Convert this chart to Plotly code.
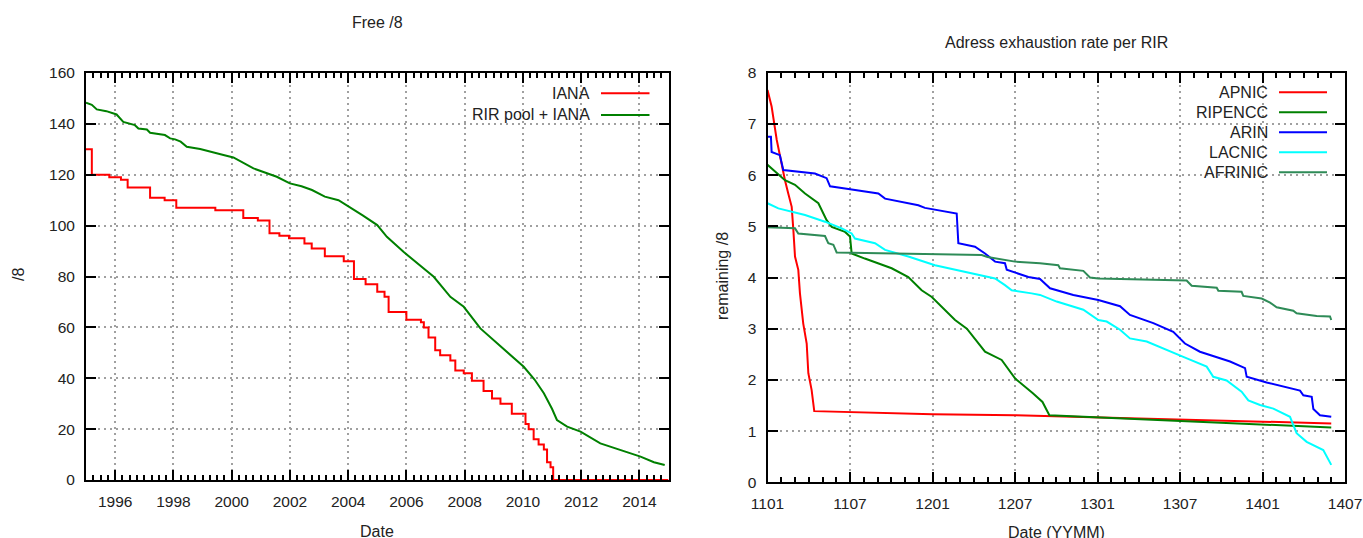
import plotly.graph_objects as go

# ---------------- Left chart data: Free /8 ----------------
iana_year = [1995.0, 1995.2, 1995.8, 1996.2, 1996.43, 1997.2, 1997.7, 1998.1, 1999.44, 2000.4,
             2000.9, 2001.3, 2001.64, 2001.97, 2002.5, 2002.75, 2003.2, 2003.85, 2004.2, 2004.6,
             2005.0, 2005.25, 2005.39, 2006.0, 2006.5, 2006.6, 2006.76, 2006.99, 2007.16, 2007.51,
             2007.68, 2007.97, 2008.25, 2008.65, 2008.94, 2009.23, 2009.62, 2010.09, 2010.2,
             2010.37, 2010.54, 2010.72, 2010.83, 2010.95, 2011.04, 2015.0]
iana_free = [130, 120, 119, 118, 115, 111, 110, 107, 106, 103,
             102, 97, 96, 95, 93, 91, 88, 86, 79, 77,
             74, 72, 66, 63, 62, 60, 56, 51, 49, 47,
             43, 42, 39, 35, 32, 30, 26, 22, 20,
             16, 14, 12, 7, 5, 0, 0]

pool_year = [1995.0, 1995.2, 1995.37, 1995.7, 1996.05, 1996.28, 1996.68, 1996.8, 1997.09, 1997.2,
             1997.71, 1997.89, 1998.06, 1998.25, 1998.46, 1998.92, 1999.72, 2000.06, 2000.75, 2001.55,
             2002.0, 2002.4, 2002.76, 2003.2, 2003.67, 2004.1, 2004.5, 2005.0, 2005.33, 2005.9,
             2006.5, 2006.94, 2007.51, 2007.97, 2008.54, 2009.0, 2009.57, 2010.03, 2010.4, 2010.72,
             2011.0, 2011.17, 2011.52, 2011.98, 2012.66, 2013.35, 2014.04, 2014.5, 2014.87]
pool_free = [148.3, 147.5, 145.7, 145.0, 143.7, 140.8, 139.5, 138.2, 137.8, 136.5,
             135.6, 134.3, 133.9, 133.0, 131.0, 130.1, 127.8, 126.8, 122.5, 119.2,
             116.6, 115.5, 114.0, 111.4, 110.0, 107.0, 104.0, 100.2, 95.6, 89.7,
             84.0, 79.9, 72.0, 68.1, 59.6, 55.0, 49.1, 44.5, 39.5, 34.1,
             28.0, 23.6, 21.0, 19.0, 14.4, 11.8, 9.2, 7.0, 5.9]

left_xtick0, left_xdtick = 1996, 2
left_ydtick = 20

# ---------------- Right chart data: per RIR (months since 1101) ----------------
apnic_m = [0, 0.3, 0.67, 0.91, 1.27, 1.51, 1.76, 1.88, 2.0, 2.24, 2.36, 2.6, 2.85, 2.97, 3.21, 3.4,
           6, 12, 18, 24, 30, 36, 41]
apnic_v = [7.66, 7.34, 6.69, 6.36, 5.9, 5.64, 5.38, 4.93, 4.41, 4.15, 3.69, 3.1, 2.71, 2.13, 1.8, 1.39,
           1.37, 1.33, 1.31, 1.27, 1.23, 1.19, 1.15]

ripe_m = [0, 0.79, 1.27, 2.0, 2.73, 3.7, 4.06, 4.3, 4.67, 5.64, 6.0, 6.12, 7.08, 9.03, 10.24, 11.21,
          11.95, 12.9, 13.64, 14.5, 15.82, 17.03, 18.0, 19.3, 20.0, 20.5, 24, 30, 36, 41]
ripe_v = [6.2, 6.02, 5.9, 5.81, 5.64, 5.45, 5.25, 5.12, 4.99, 4.89, 4.8, 4.47, 4.37, 4.18, 4.01, 3.75,
          3.62, 3.36, 3.17, 3.0, 2.55, 2.39, 2.03, 1.74, 1.57, 1.31, 1.27, 1.2, 1.13, 1.07]

arin_m = [0, 0.25, 0.3, 0.9, 1.15, 3.45, 4.3, 4.55, 5.64, 8.06, 8.55, 10.97, 11.45, 13.15, 13.76, 13.88,
          15.09, 15.82, 16.55, 17.27, 17.4, 18.97, 19.82, 20.55, 22.24, 24.06, 25.64, 26.36, 28.06,
          29.51, 30.36, 31.45, 33.64, 34.73, 34.85, 36.3, 38.73, 38.97, 39.58, 39.7, 40.18, 41.0]
arin_v = [6.75, 6.75, 6.45, 6.39, 6.1, 6.03, 5.94, 5.78, 5.74, 5.64, 5.54, 5.41, 5.36, 5.28, 5.25, 4.67,
          4.6, 4.47, 4.31, 4.28, 4.15, 4.01, 3.97, 3.79, 3.66, 3.56, 3.44, 3.27, 3.11,
          2.94, 2.71, 2.55, 2.36, 2.23, 2.06, 1.95, 1.79, 1.7, 1.67, 1.43, 1.31, 1.28]

lacnic_m = [0, 0.79, 2.73, 4.18, 5.4, 6.12, 6.36, 7.82, 8.55, 10.24, 12.18, 14.36, 16.55, 17.27, 17.76,
            19.21, 19.82, 21.03, 22.97, 24.06, 24.67, 25.64, 26.36, 27.58, 29.27, 30.24, 31.94, 32.42,
            33.39, 34.48, 34.97, 35.82, 36.79, 38.0, 38.48, 39.21, 40.42, 41.0]
lacnic_v = [5.45, 5.35, 5.22, 5.09, 4.96, 4.86, 4.76, 4.67, 4.54, 4.41, 4.24, 4.11, 3.98, 3.85, 3.75,
            3.69, 3.66, 3.53, 3.37, 3.17, 3.14, 2.98, 2.81, 2.75, 2.55, 2.45, 2.26, 2.06,
            1.99, 1.77, 1.6, 1.51, 1.44, 1.28, 0.96, 0.79, 0.63, 0.34]

afrinic_m = [0, 2.0, 2.24, 4.18, 4.42, 4.79, 5.03, 15.58, 16.0, 18.0, 19.82, 21.15, 21.27, 22.97, 23.45,
             24.06, 30.48, 30.85, 32.67, 32.79, 34.48, 34.6, 35.94, 36.55, 37.03, 38.24, 38.48, 39.94,
             40.91, 41.0]
afrinic_v = [4.98, 4.96, 4.86, 4.81, 4.67, 4.64, 4.49, 4.44, 4.4, 4.31, 4.28, 4.24, 4.18, 4.13, 4.0,
             3.98, 3.94, 3.84, 3.8, 3.74, 3.72, 3.64, 3.59, 3.51, 3.42, 3.35, 3.3, 3.25,
             3.24, 3.17]

right_xtick_months = ["0", "6", "12", "18", "24", "30", "36", "42"]
right_xticktext = ["1101", "1107", "1201", "1207", "1301", "1307", "1401", "1407"]
right_ydtick = 1

# ---------------- Figure ----------------
W, H = 1363, 538
FONT = "Liberation Sans, Arial, sans-serif"
TXT = "#222222"
GRID = "#a0a0a0"

def px(x):
    return x / W

def py(y):
    return 1 - y / H

L_X0, L_X1, L_Y0, L_Y1 = 86, 668.5, 73, 480
R_X0, R_X1, R_Y0, R_Y1 = 767.5, 1345, 72.7, 482.3

fig = go.Figure()

fig.add_trace(go.Scatter(x=iana_year, y=iana_free, mode="lines", line=dict(color="#ff0000", width=2, shape="hv"),
                         xaxis="x", yaxis="y", showlegend=False))
fig.add_trace(go.Scatter(x=pool_year, y=pool_free, mode="lines", line=dict(color="#008000", width=2),
                         xaxis="x", yaxis="y", showlegend=False))

right_series = [
    ("APNIC", apnic_m, apnic_v, "#ff0000"),
    ("RIPENCC", ripe_m, ripe_v, "#008000"),
    ("ARIN", arin_m, arin_v, "#0000ff"),
    ("LACNIC", lacnic_m, lacnic_v, "#00ffff"),
    ("AFRINIC", afrinic_m, afrinic_v, "#2e8b57"),
]
for name, xs, ys, col in right_series:
    fig.add_trace(go.Scatter(x=xs, y=ys, mode="lines", line=dict(color=col, width=2),
                             xaxis="x2", yaxis="y2", showlegend=False, name=name))

axis_common = dict(
    showline=True, linecolor="black", linewidth=2, mirror="ticks", automargin=False,
    ticks="inside", ticklen=10, tickwidth=2, tickcolor="black",
    showgrid=True, gridcolor=GRID, gridwidth=1.5, griddash="2px,4px",
    zeroline=False, tickfont=dict(family=FONT, size=15.5, color=TXT),
)

fig.update_layout(
    width=W, height=H, autosize=False,
    margin=dict(l=0, r=0, t=0, b=0),
    paper_bgcolor="white", plot_bgcolor="white",
    xaxis=dict(domain=[px(L_X0), px(L_X1)], anchor="y", range=[1995, 2015],
               tickmode="linear", tick0=left_xtick0, dtick=left_xdtick, tickformat="d",
               ticklabelstandoff=6,
               minor=dict(ticks="inside", ticklen=5, tickwidth=2, tickcolor="black", dtick=0.25, tick0=1995, showgrid=False),
               **axis_common),
    yaxis=dict(domain=[py(L_Y1), py(L_Y0)], anchor="x", range=[0, 160],
               tickmode="linear", tick0=0, dtick=left_ydtick, ticklabelstandoff=6, **axis_common),
    xaxis2=dict(domain=[px(R_X0), px(R_X1)], anchor="y2", range=[0, 42],
                tickmode="linear", tick0=0, dtick=6,
                labelalias=dict(zip(right_xtick_months, right_xticktext)),
                ticklabelstandoff=6,
                minor=dict(ticks="inside", ticklen=5, tickwidth=2, tickcolor="black", dtick=1, tick0=0, showgrid=False),
                **axis_common),
    yaxis2=dict(domain=[py(R_Y1), py(R_Y0)], anchor="x2", range=[0, 8],
                tickmode="linear", tick0=0, dtick=right_ydtick, ticklabelstandoff=6, **axis_common),
)

shapes = []
# key boxes blanking the grid (gnuplot style)
shapes.append(dict(type="rect", xref="paper", yref="paper", layer="between",
                   x0=px(443), x1=px(L_X1 - 1), y0=py(128), y1=py(L_Y0 + 1),
                   fillcolor="white", line=dict(width=0)))
shapes.append(dict(type="rect", xref="paper", yref="paper", layer="between",
                   x0=px(1203), x1=px(R_X1 - 1), y0=py(183), y1=py(R_Y0 + 1),
                   fillcolor="white", line=dict(width=0)))

annotations = []
# left key
left_key = [("IANA", "#ff0000"), ("RIR pool + IANA", "#008000")]
for i, (lab, col) in enumerate(left_key):
    yy = 93.3 + i * 21.7
    annotations.append(dict(text=lab, x=px(592), y=py(yy), xref="paper", yref="paper",
                            xanchor="right", yanchor="middle", showarrow=False,
                            font=dict(family=FONT, size=16, color=TXT)))
    shapes.append(dict(type="line", xref="paper", yref="paper", x0=px(601), x1=px(649.5),
                       y0=py(yy), y1=py(yy), line=dict(color=col, width=2)))
# right key
for i, (name, xs, ys, col) in enumerate(right_series):
    yy = 92.3 + i * 20
    annotations.append(dict(text=name, x=px(1270), y=py(yy), xref="paper", yref="paper",
                            xanchor="right", yanchor="middle", showarrow=False,
                            font=dict(family=FONT, size=16, color=TXT)))
    shapes.append(dict(type="line", xref="paper", yref="paper", x0=px(1279), x1=px(1327),
                       y0=py(yy), y1=py(yy), line=dict(color=col, width=2)))

def text_at(t, x, y, size=16, angle=0):
    annotations.append(dict(text=t, x=px(x), y=py(y), xref="paper", yref="paper",
                            xanchor="center", yanchor="middle", showarrow=False, textangle=angle,
                            font=dict(family=FONT, size=size, color=TXT)))

text_at("Free /8", 377, 22)
text_at("Adress exhaustion rate per RIR", 1056, 42)
text_at("Date", 377, 531)
text_at("Date (YYMM)", 1056, 532)
text_at("/8", 18, 275, angle=-90)
text_at("remaining /8", 722, 276, angle=-90)

fig.update_layout(shapes=shapes, annotations=annotations)

# place the figure at the window's top-left corner, without scrollbars or modebar
fig.write_html("out.html",
               config={"displayModeBar": False},
               post_script="document.body.style.margin='0';document.body.style.overflow='hidden';")
